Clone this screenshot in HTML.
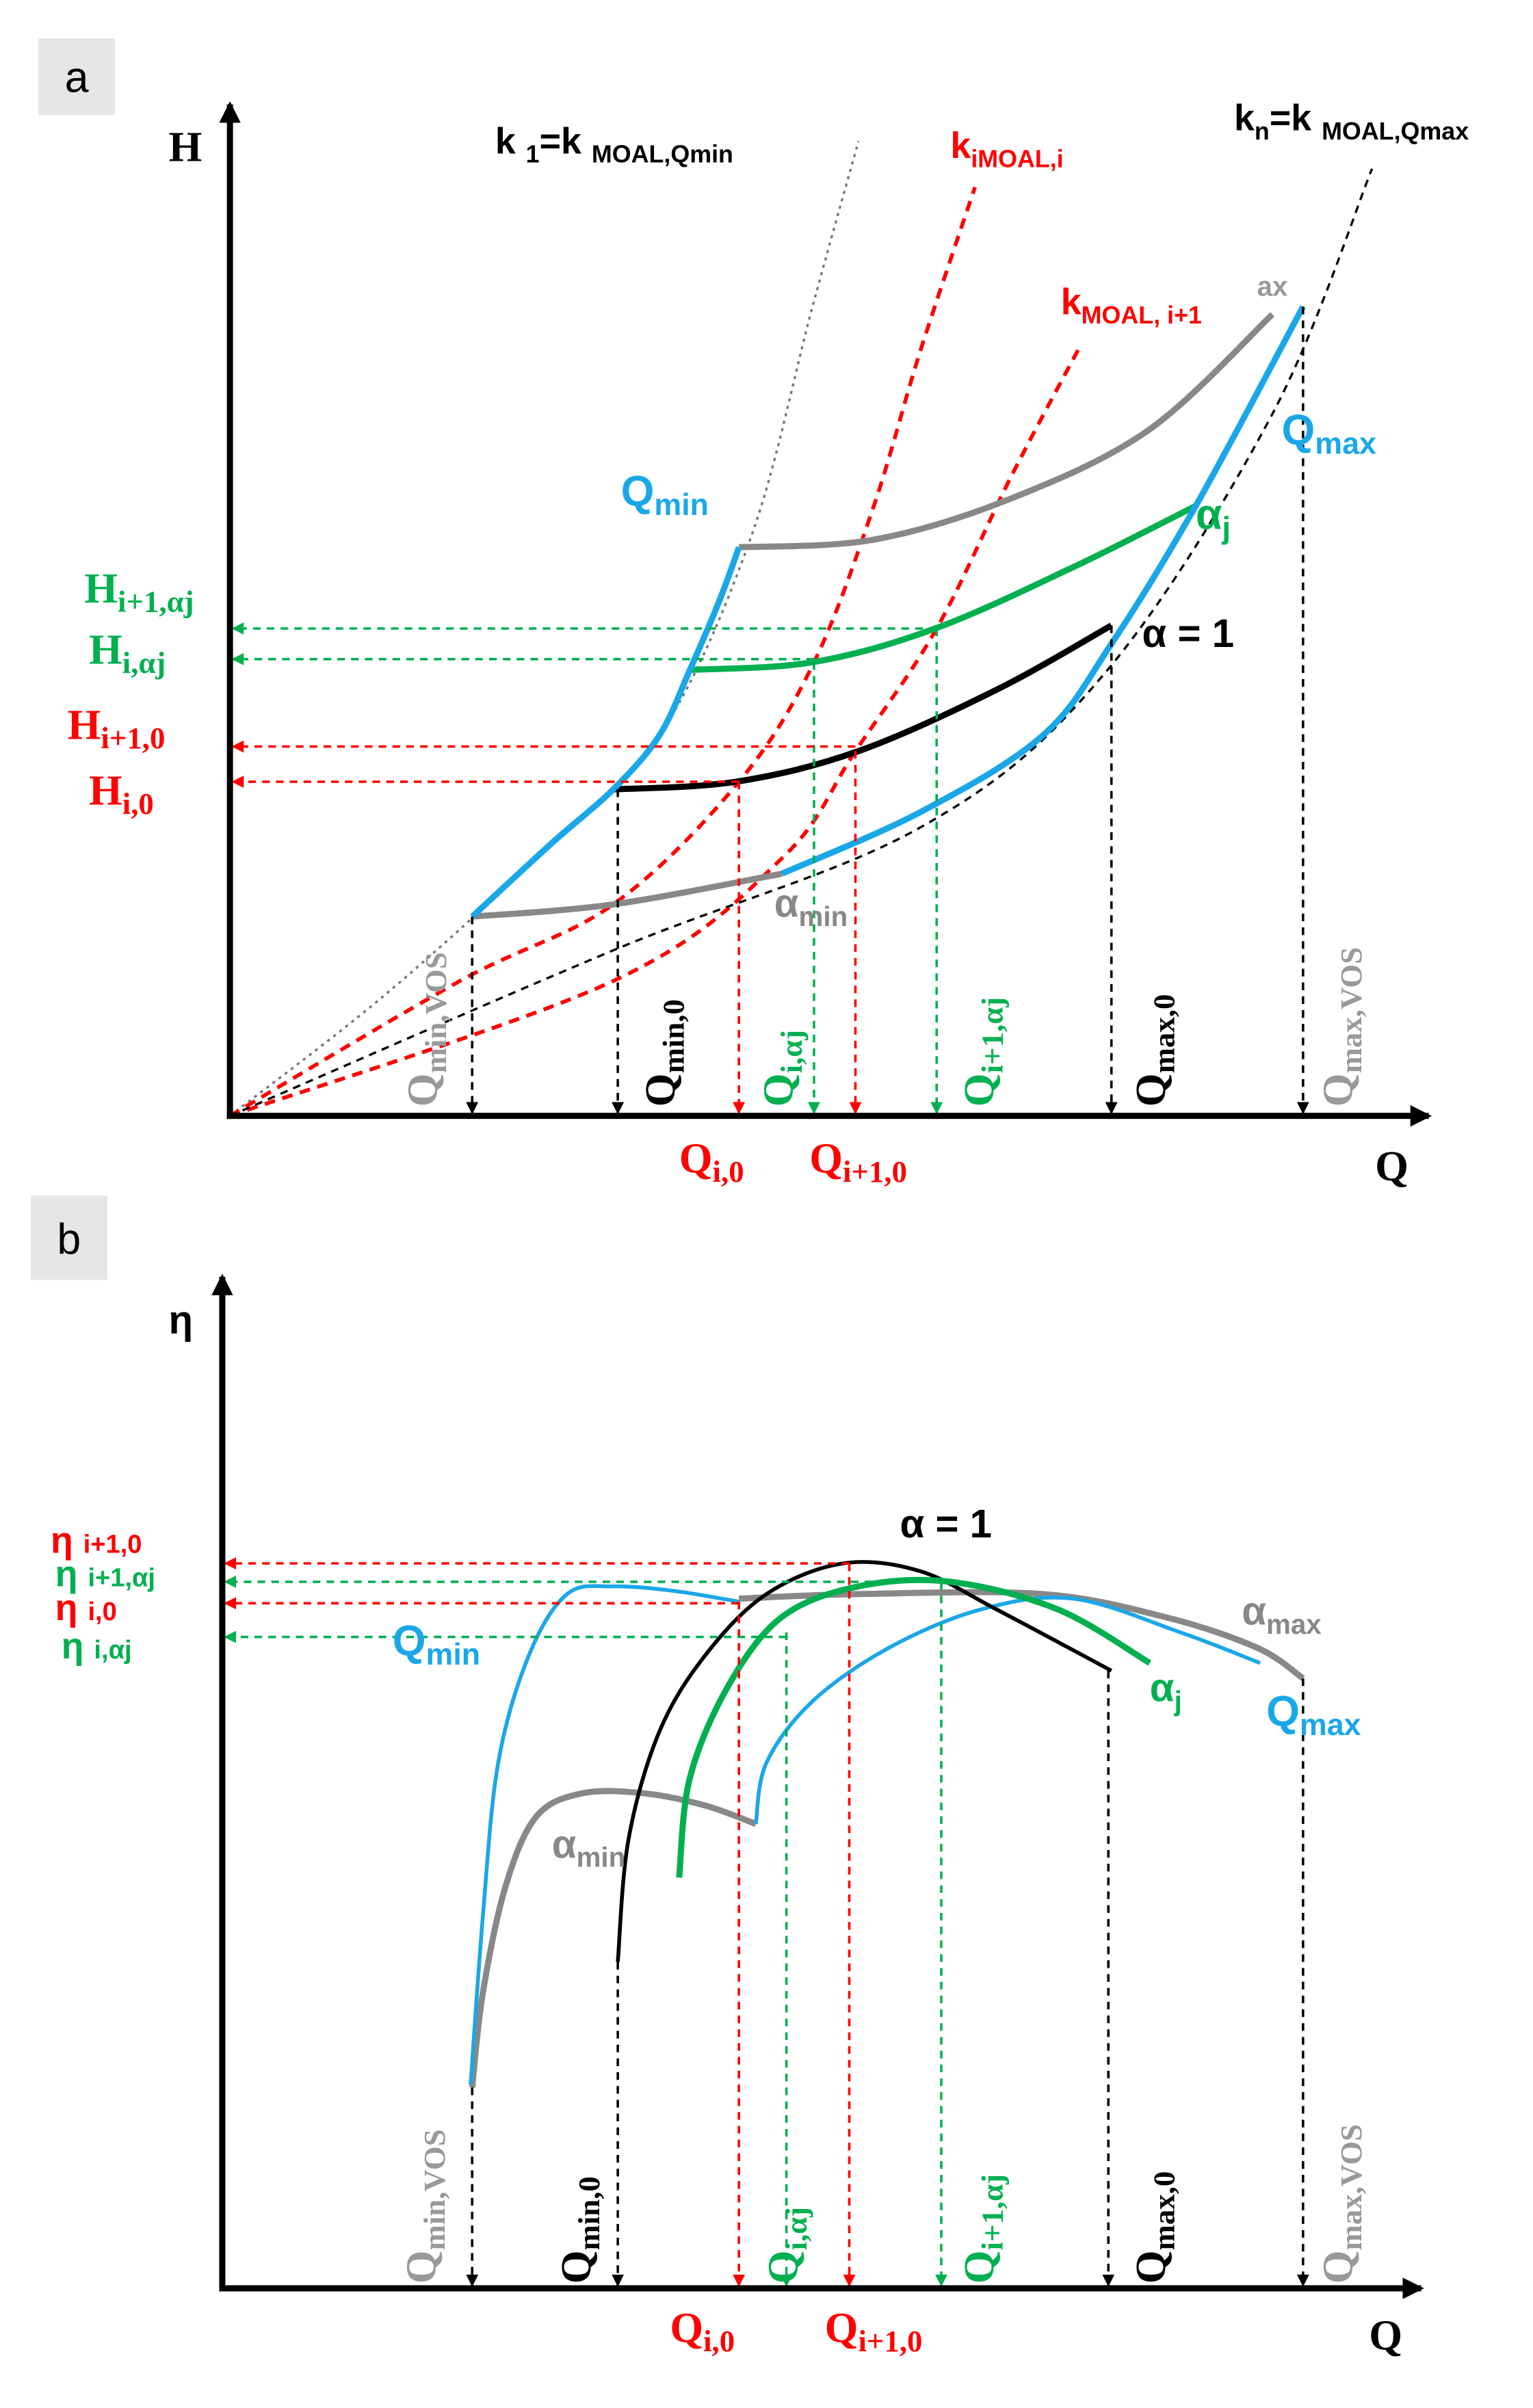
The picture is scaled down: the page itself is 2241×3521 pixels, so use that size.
<!DOCTYPE html>
<html><head><meta charset="utf-8">
<style>
html,body{margin:0;padding:0;background:#fff;}
svg{display:block;}
.sr{font-family:"Liberation Serif",serif;font-weight:bold;}
.ss{font-family:"Liberation Sans",sans-serif;font-weight:bold;}
</style></head>
<body>
<svg id="chart" width="2241" height="3521" viewBox="0 0 1000 1571" xmlns="http://www.w3.org/2000/svg">
<defs>
<marker id="ak" markerWidth="8" markerHeight="8" refX="7" refY="4" orient="auto" markerUnits="userSpaceOnUse"><path d="M0,0 L8,4 L0,8 Z" fill="#000"/></marker>
<marker id="ar" markerWidth="8" markerHeight="8" refX="7" refY="4" orient="auto" markerUnits="userSpaceOnUse"><path d="M0,0 L8,4 L0,8 Z" fill="#f00"/></marker>
<marker id="ag" markerWidth="8" markerHeight="8" refX="7" refY="4" orient="auto" markerUnits="userSpaceOnUse"><path d="M0,0 L8,4 L0,8 Z" fill="#00b050"/></marker>
<marker id="axa" markerWidth="14" markerHeight="14" refX="12" refY="7" orient="auto" markerUnits="userSpaceOnUse"><path d="M0,0 L14,7 L0,14 Z" fill="#000"/></marker>
</defs>
<g id="pa"></g>
<g id="pb"></g>

<rect x="25" y="25" width="50" height="50" fill="#e6e6e6"/>
<text x="50" y="60" text-anchor="middle" font-family="Liberation Sans,sans-serif" font-size="28">a</text>
<rect x="20" y="780" width="50" height="55" fill="#e6e6e6"/>
<text x="45" y="818" text-anchor="middle" font-family="Liberation Sans,sans-serif" font-size="28">b</text>

<line x1="150" y1="730" x2="150" y2="68" stroke="#000" stroke-width="4" marker-end="url(#axa)"/>
<line x1="148" y1="728" x2="932" y2="728" stroke="#000" stroke-width="4" marker-end="url(#axa)"/>
<text x="110" y="105" class="sr" font-size="28">H</text>
<text x="897" y="770" class="sr" font-size="28">Q</text>
<line x1="145" y1="1495" x2="145" y2="833" stroke="#000" stroke-width="4" marker-end="url(#axa)"/>
<line x1="143" y1="1493" x2="927" y2="1493" stroke="#000" stroke-width="4" marker-end="url(#axa)"/>
<text x="110" y="870" class="ss" font-size="26">η</text>
<text x="893" y="1533" class="sr" font-size="28">Q</text>

<g>
<text x="323" y="100" class="ss" font-size="24" fill="#000">k <tspan font-size="16" dy="6">1</tspan><tspan dy="-6">=k </tspan><tspan font-size="16" dy="6">MOAL,Qmin</tspan></text>
<text x="620" y="103" class="ss" font-size="24" fill="#f00">k<tspan font-size="16" dy="6">iMOAL,i</tspan></text>
<text x="692" y="205" class="ss" font-size="24" fill="#f00">k<tspan font-size="16" dy="6">MOAL, i+1</tspan></text>
<text x="805" y="85" class="ss" font-size="24" fill="#000">k<tspan font-size="16" dy="6">n</tspan><tspan dy="-6">=k </tspan><tspan font-size="16" dy="6">MOAL,Qmax</tspan></text>
<text x="820" y="193" class="ss" font-size="18" fill="#999">ax</text>
<text x="405" y="330" class="ss" font-size="28" fill="#1aa7e8">Q<tspan font-size="20" dy="6">min</tspan></text>
<text x="836" y="290" class="ss" font-size="28" fill="#1aa7e8">Q<tspan font-size="20" dy="6">max</tspan></text>
<text x="780" y="345" class="ss" font-size="28" fill="#00b050">α<tspan font-size="20" dy="6">j</tspan></text>
<text x="745" y="422" class="ss" font-size="26" fill="#000">α = 1</text>
<text x="505" y="598" class="ss" font-size="26" fill="#888">α<tspan font-size="18" dy="6">min</tspan></text>
<text x="55" y="393" class="sr" font-size="28" fill="#00b050">H<tspan font-size="20" dy="6">i+1,αj</tspan></text>
<text x="58" y="433" class="sr" font-size="28" fill="#00b050">H<tspan font-size="20" dy="6">i,αj</tspan></text>
<text x="44" y="482" class="sr" font-size="28" fill="#f00">H<tspan font-size="20" dy="6">i+1,0</tspan></text>
<text x="58" y="525" class="sr" font-size="28" fill="#f00">H<tspan font-size="20" dy="6">i,0</tspan></text>
<text x="443" y="765" class="sr" font-size="28" fill="#f00">Q<tspan font-size="20" dy="6">i,0</tspan></text>
<text x="528" y="765" class="sr" font-size="28" fill="#f00">Q<tspan font-size="20" dy="6">i+1,0</tspan></text>
<text transform="translate(285,722) rotate(-90)" class="sr" font-size="28" fill="#999">Q<tspan font-size="20" dy="6">min,VOS</tspan></text>
<text transform="translate(440,722) rotate(-90)" class="sr" font-size="28" fill="#000">Q<tspan font-size="20" dy="6">min,0</tspan></text>
<text transform="translate(517,722) rotate(-90)" class="sr" font-size="28" fill="#00b050">Q<tspan font-size="20" dy="6">i,αj</tspan></text>
<text transform="translate(648,722) rotate(-90)" class="sr" font-size="28" fill="#00b050">Q<tspan font-size="20" dy="6">i+1,αj</tspan></text>
<text transform="translate(760,722) rotate(-90)" class="sr" font-size="28" fill="#000">Q<tspan font-size="20" dy="6">max,0</tspan></text>
<text transform="translate(882,722) rotate(-90)" class="sr" font-size="28" fill="#999">Q<tspan font-size="20" dy="6">max,VOS</tspan></text>
</g>
<g>
<text x="587" y="1003" class="ss" font-size="26" fill="#000">α = 1</text>
<text x="810" y="1060" class="ss" font-size="26" fill="#888">α<tspan font-size="18" dy="6">max</tspan></text>
<text x="750" y="1110" class="ss" font-size="26" fill="#00b050">α<tspan font-size="18" dy="6">j</tspan></text>
<text x="826" y="1126" class="ss" font-size="28" fill="#1aa7e8">Q<tspan font-size="20" dy="6">max</tspan></text>
<text x="256" y="1080" class="ss" font-size="28" fill="#1aa7e8">Q<tspan font-size="20" dy="6">min</tspan></text>
<text x="360" y="1212" class="ss" font-size="26" fill="#888">α<tspan font-size="18" dy="6">min</tspan></text>
<text x="33" y="1013" class="ss" font-size="24" fill="#f00">η <tspan font-size="17">i+1,0</tspan></text>
<text x="36" y="1035" class="ss" font-size="24" fill="#00b050">η <tspan font-size="17">i+1,αj</tspan></text>
<text x="36" y="1057" class="ss" font-size="24" fill="#f00">η <tspan font-size="17">i,0</tspan></text>
<text x="40" y="1082" class="ss" font-size="24" fill="#00b050">η <tspan font-size="17">i,αj</tspan></text>
<text x="437" y="1528" class="sr" font-size="28" fill="#f00">Q<tspan font-size="20" dy="6">i,0</tspan></text>
<text x="538" y="1528" class="sr" font-size="28" fill="#f00">Q<tspan font-size="20" dy="6">i+1,0</tspan></text>
<text transform="translate(284,1490) rotate(-90)" class="sr" font-size="28" fill="#999">Q<tspan font-size="20" dy="6">min,VOS</tspan></text>
<text transform="translate(385,1490) rotate(-90)" class="sr" font-size="28" fill="#000">Q<tspan font-size="20" dy="6">min,0</tspan></text>
<text transform="translate(520,1490) rotate(-90)" class="sr" font-size="28" fill="#00b050">Q<tspan font-size="20" dy="6">i,αj</tspan></text>
<text transform="translate(648,1490) rotate(-90)" class="sr" font-size="28" fill="#00b050">Q<tspan font-size="20" dy="6">i+1,αj</tspan></text>
<text transform="translate(760,1490) rotate(-90)" class="sr" font-size="28" fill="#000">Q<tspan font-size="20" dy="6">max,0</tspan></text>
<text transform="translate(882,1490) rotate(-90)" class="sr" font-size="28" fill="#999">Q<tspan font-size="20" dy="6">max,VOS</tspan></text>
</g>
</svg>
<script>
// ---- Panel a data (Q, H in chart units relative to origin) ----
const qMinA   = [[158,130],[210,178],[250,213],[280,248],[300,291],[320,338],[332,371]];
const aMinA   = [[158,130],[250,138],[360,158]];
const a1A     = [[250,213],[330,218],[410,238],[500,278],[575,320]];
const ajA     = [[300,291],[380,296],[460,318],[550,358],[630,398]];
const aMaxA   = [[332,371],[420,376],[510,403],[600,448],[680,523]];
const qMaxA   = [[360,158],[450,198],[530,248],[575,308],[630,398],[700,528]];
const k1A     = [[0,0],[100,78],[200,168],[280,248],[340,378],[380,528],[410,636]];
const kiA     = [[0,0],[150,88],[250,138],[332,218],[381,296],[420,398],[450,498],[486,606]];
const ki1A    = [[0,0],[250,88],[360,168],[408,238],[461,318],[510,418],[555,503]];
const knA     = [[0,0],[250,108],[450,188],[570,288],[680,458],[745,618]];
const vArrA = [[158,130,'k'],[253,213,'k'],[332,218,'r'],[381,296,'g'],[408,238,'r'],[461,318,'g'],[575,320,'k'],[700,528,'k']];
const hArrA = [[461,318,'g'],[381,298,'g'],[408,241,'r'],[332,218,'r']];

// ---- Panel b data (Q, eta) ----
const qMinB = [[162,133],[170,243],[180,343],[200,413],[225,453],[255,458],[295,455],[337,448]];
const aMinB = [[163,131],[170,193],[185,263],[205,308],[235,323],[275,323],[315,315],[348,303]];
const qMaxB = [[348,303],[355,343],[385,383],[435,418],[495,443],[555,450],[625,428],[677,408]];
const a1B   = [[258,213],[265,293],[285,363],[315,413],[355,453],[405,473],[455,468],[505,443],[580,403]];
const ajB   = [[298,268],[305,333],[330,393],[365,438],[415,458],[475,461],[545,443],[605,408]];
const aMaxB = [[337,450],[415,453],[535,453],[615,438],[675,418],[705,398]];
const vArrB = [[163,131,'k'],[258,213,'k'],[337,448,'r'],[368,428,'g'],[409,473,'r'],[469,461,'g'],[578,403,'k'],[705,398,'k']];
const hArrB = [[409,473,'r'],[469,461,'g'],[337,447,'r'],[368,425,'g']];

const NS='http://www.w3.org/2000/svg';
const xa=v=>150+v, ya=v=>728-v;
const xb=v=>145+v, yb=v=>1493-v;

function smooth(pts){
  let d='M'+pts[0][0]+','+pts[0][1];
  for(let i=0;i<pts.length-1;i++){
    const p0=pts[i-1]||pts[i],p1=pts[i],p2=pts[i+1],p3=pts[i+2]||p2;
    const c1=[p1[0]+(p2[0]-p0[0])/6,p1[1]+(p2[1]-p0[1])/6];
    const c2=[p2[0]-(p3[0]-p1[0])/6,p2[1]-(p3[1]-p1[1])/6];
    d+=' C'+c1.join(',')+' '+c2.join(',')+' '+p2.join(',');
  }
  return d;
}
function curve(g,data,fx,fy,color,w,dash,name){
  const p=document.createElementNS(NS,'path');
  p.setAttribute('d',smooth(data.map(d=>[fx(d[0]),fy(d[1])])));
  p.setAttribute('fill','none');p.setAttribute('stroke',color);p.setAttribute('stroke-width',w);
  if(dash)p.setAttribute('stroke-dasharray',dash);
  
  
  g.appendChild(p);
}
const col={k:'#000',r:'#f00',g:'#00b050'};
function arrow(g,x1,y1,x2,y2,c,name){
  const l=document.createElementNS(NS,'line');
  l.setAttribute('x1',x1);l.setAttribute('y1',y1);l.setAttribute('x2',x2);l.setAttribute('y2',y2);
  l.setAttribute('stroke',col[c]);l.setAttribute('stroke-width',1.6);l.setAttribute('stroke-dasharray','5,4');
  l.setAttribute('marker-end','url(#a'+c+')');
  
  
  g.appendChild(l);
}
const ga=document.getElementById('pa'), gb=document.getElementById('pb');
curve(ga,k1A,xa,ya,'#777',1.5,'2,3','k1-curve');
curve(ga,kiA,xa,ya,'#f00',2.5,'7,5','ki-curve');
curve(ga,ki1A,xa,ya,'#f00',2.5,'7,5','ki1-curve');
curve(ga,knA,xa,ya,'#000',1.5,'5,4','kn-curve');
curve(ga,aMinA,xa,ya,'#888',4,null,'alpha-min-curve-a');
curve(ga,aMaxA,xa,ya,'#888',4,null,'alpha-max-curve-a');
curve(ga,a1A,xa,ya,'#000',4,null,'alpha-1-curve-a');
curve(ga,ajA,xa,ya,'#00b050',4,null,'alpha-j-curve-a');
curve(ga,qMinA,xa,ya,'#1aa7e8',4,null,'qmin-curve-a');
curve(ga,qMaxA,xa,ya,'#1aa7e8',4,null,'qmax-curve-a');
vArrA.forEach(a=>arrow(ga,xa(a[0]),ya(a[1]),xa(a[0]),726,a[2],'q-drop-arrow-a'));
hArrA.forEach(a=>arrow(ga,xa(a[0]),ya(a[1]),152,ya(a[1]),a[2],'h-level-arrow-a'));

curve(gb,aMinB,xb,yb,'#888',4,null,'alpha-min-curve-b');
curve(gb,aMaxB,xb,yb,'#888',4,null,'alpha-max-curve-b');
curve(gb,qMinB,xb,yb,'#1aa7e8',2.5,null,'qmin-curve-b');
curve(gb,qMaxB,xb,yb,'#1aa7e8',2.5,null,'qmax-curve-b');
curve(gb,a1B,xb,yb,'#000',2.5,null,'alpha-1-curve-b');
curve(gb,ajB,xb,yb,'#00b050',4,null,'alpha-j-curve-b');
vArrB.forEach(a=>arrow(gb,xb(a[0]),yb(a[1]),xb(a[0]),1491,a[2],'q-drop-arrow-b'));
hArrB.forEach(a=>arrow(gb,xb(a[0]),yb(a[1]),147,yb(a[1]),a[2],'eta-level-arrow-b'));
</script>
</body></html>
